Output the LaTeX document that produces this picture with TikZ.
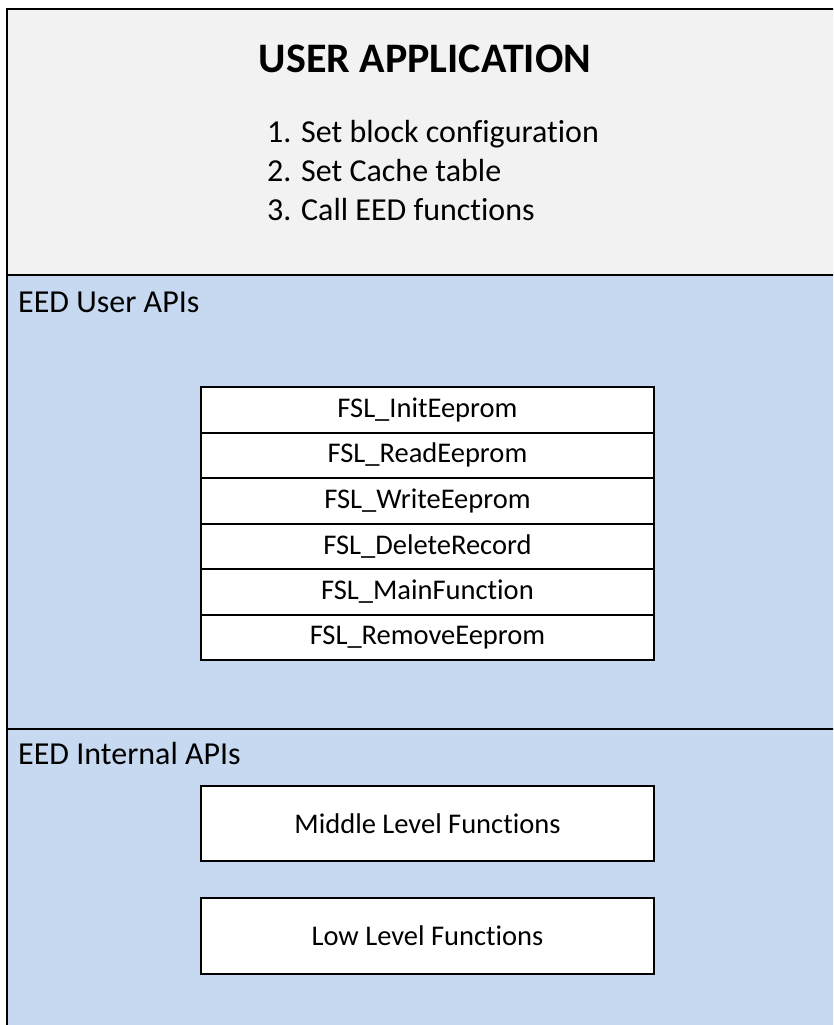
\documentclass[tikz,border=0pt]{standalone}
\usepackage{fontspec}
\setmainfont{Carlito}[Ligatures=NoCommon]
\definecolor{graybg}{HTML}{F2F2F2}
\definecolor{bluebg}{HTML}{C6D9F1}
\begin{document}
\begin{tikzpicture}[x=1pt,y=-1pt,
  frame/.style={line width=2.2pt, draw=black},
  rowbox/.style={draw=black, line width=2pt, fill=white, minimum width=453pt, minimum height=45.5pt, inner sep=0pt, font=\fontsize{28.5}{34}\selectfont},
  funcbox/.style={draw=black, line width=2pt, fill=white, minimum width=453pt, minimum height=75pt, inner sep=0pt, font=\fontsize{28.5}{34}\selectfont},
  label/.style={anchor=base west, inner sep=0pt, font=\fontsize{32}{39}\selectfont}]
\useasboundingbox (0,0) rectangle (833,1025);
\clip (0,0) rectangle (833,1025);
\fill[graybg] (7,9) rectangle (845,275);
\fill[bluebg] (7,275) rectangle (845,1040);
\draw[frame] (845,9) -- (7,9) -- (7,1040);
\draw[frame] (7,275) -- (845,275);
\draw[frame] (7,729) -- (845,729);
% title and list
\node[anchor=base, inner sep=0pt, font=\fontsize{42}{50}\selectfont\bfseries] (title) at (425,72) {USER APPLICATION};
\node[label] (l1) at (267,142) {1. Set block configuration};
\node[label] (l2) at (267,181) {2. Set Cache table};
\node[label] (l3) at (267,220) {3. Call EED functions};
% section labels
\node[label] (userapis) at (18,312) {EED User APIs};
\node[label] (intapis) at (18,764) {EED Internal APIs};
% API table
\node[rowbox] (r1) at (427.5,409.75) {FSL\_InitEeprom};
\node[rowbox] (r2) at (427.5,455.25) {FSL\_ReadEeprom};
\node[rowbox] (r3) at (427.5,500.75) {FSL\_WriteEeprom};
\node[rowbox] (r4) at (427.5,546.25) {FSL\_DeleteRecord};
\node[rowbox] (r5) at (427.5,591.75) {FSL\_MainFunction};
\node[rowbox] (r6) at (427.5,637.25) {FSL\_RemoveEeprom};
% internal boxes
\node[funcbox] (mid) at (427.5,823.5) {Middle Level Functions};
\node[funcbox, minimum height=76pt] (low) at (427.5,936) {Low Level Functions};
\end{tikzpicture}
\end{document}
